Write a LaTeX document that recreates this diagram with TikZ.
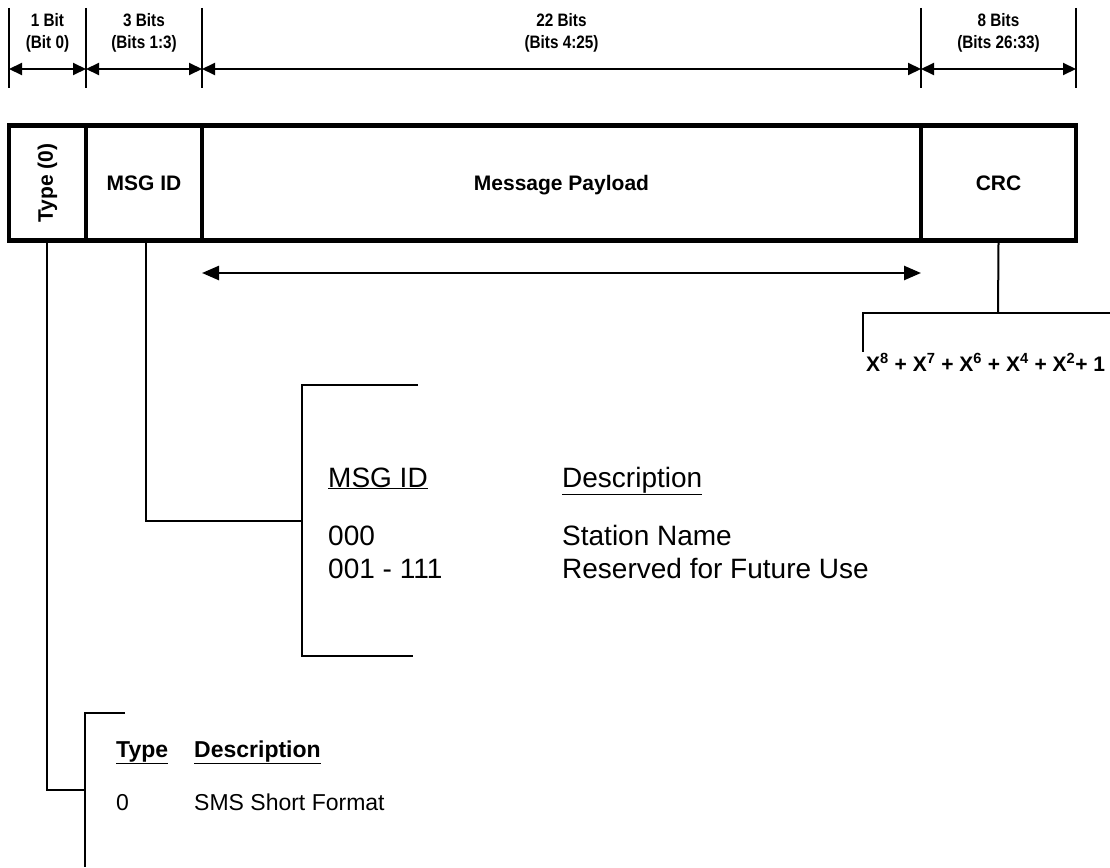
\documentclass[tikz,border=0pt]{standalone}
\usepackage{fontspec}
\setmainfont{Liberation Sans}
\usetikzlibrary{arrows.meta}
\tikzset{
  tick/.style={line width=2.5pt},
  dimarrow/.style={line width=2pt, {Triangle[length=13pt,width=12pt]}-{Triangle[length=13pt,width=12pt]}},
  payarrow/.style={line width=2.5pt, {Triangle[length=17pt,width=14pt]}-{Triangle[length=17pt,width=14pt]}},
  field/.style={draw, line width=4.5pt, minimum height=115pt, inner sep=0pt, font=\fontsize{21}{25}\selectfont\bfseries},
  toplabel/.style={align=center, inner sep=0pt, anchor=north, font=\fontsize{18}{21}\selectfont\bfseries},
  conn/.style={line width=2pt},
  tabtxt/.style={anchor=base west, inner sep=0pt, font=\fontsize{28}{33}\selectfont},
  typtxt/.style={anchor=base west, inner sep=0pt, font=\fontsize{23}{27}\selectfont},
  typhead/.style={typtxt, font=\fontsize{23}{27}\selectfont\bfseries},
}
\newcommand{\narrow}[1]{\scalebox{0.85}[1]{#1}}
\begin{document}
\begin{tikzpicture}[x=1pt,y=-1pt]
\useasboundingbox[fill=white] (0,0) rectangle (1110,867);

% dimension ticks
\foreach \n/\x in {0/9,1/86,2/202,3/921,4/1076}{
  \coordinate (tt\n) at (\x,8);
  \coordinate (tb\n) at (\x,88);
  \coordinate (ta\n) at (\x,69);
  \draw[tick] (tt\n) -- (tb\n);
}
\draw[dimarrow] (ta0) -- (ta1);
\draw[dimarrow] (ta1) -- (ta2);
\draw[dimarrow] (ta2) -- (ta3);
\draw[dimarrow] (ta3) -- (ta4);

\node[toplabel] (l0) at (47.5,13) {\narrow{1 Bit}\\[1pt]\narrow{(Bit 0)}};
\node[toplabel] (l1) at (144,13) {\narrow{3 Bits}\\[1pt]\narrow{(Bits 1:3)}};
\node[toplabel] (l2) at (561.5,13) {\narrow{22 Bits}\\[1pt]\narrow{(Bits 4:25)}};
\node[toplabel] (l3) at (998.5,13) {\narrow{8 Bits}\\[1pt]\narrow{(Bits 26:33)}};

% fields
\node[field, minimum width=77pt] (type) at (47.5,183) {\rotatebox{90}{Type (0)}};
\node[field, minimum width=116pt] (msg) at (144,183) {MSG ID};
\node[field, minimum width=719pt, text depth=0pt] (pay) at (561.5,183) {Message Payload};
\node[field, minimum width=155pt] (crc) at (998.5,183) {CRC};

% payload arrow
\coordinate (pa) at (202,273);
\coordinate (pb) at (921,273);
\draw[payarrow] (pa) -- (pb);

% CRC polynomial
\coordinate (crcj) at (998,313);
\coordinate (crcR) at (1110,313);
\coordinate (crcL) at (863,313);
\coordinate (crcE) at (863,352);
\draw[conn] (crc.south) -- (crcj);
\draw[conn] (crcR) -- (crcL) -- (crcE);
\node[anchor=base west, inner sep=0pt, font=\fontsize{21}{25}\selectfont\bfseries] (poly) at (866,371)
  {X\textsuperscript{8} + X\textsuperscript{7} + X\textsuperscript{6} + X\textsuperscript{4} + X\textsuperscript{2}+ 1};

% MSG ID table
\coordinate (mj) at (146,521);
\coordinate (mb) at (302,521);
\coordinate (mt1) at (418,385);
\coordinate (mt0) at (302,385);
\coordinate (mb0) at (302,656);
\coordinate (mb1) at (413,656);
\draw[conn] (msg.south -| mj) -- (mj) -- (mb);
\draw[conn] (mt1) -- (mt0) -- (mb0) -- (mb1);
\node[tabtxt] (mh1) at (328,487) {\underline{MSG ID}};
\node[tabtxt] (mh2) at (562,487) {\underline{Description}};
\node[tabtxt] (m1a) at (328,545) {000};
\node[tabtxt] (m1b) at (562,545) {Station Name};
\node[tabtxt] (m2a) at (328,578) {001 - 111};
\node[tabtxt] (m2b) at (562,578) {Reserved for Future Use};

% Type table
\coordinate (tj) at (47,790);
\coordinate (tbk) at (85,790);
\coordinate (tk1) at (125,713);
\coordinate (tk0) at (85,713);
\coordinate (tk2) at (85,867);
\draw[conn] (type.south -| tj) -- (tj) -- (tbk);
\draw[conn] (tk1) -- (tk0) -- (tk2);
\node[typhead] (th1) at (116,757) {\underline{Type}};
\node[typhead] (th2) at (194,757) {\underline{Description}};
\node[typtxt] (tr1) at (116,810) {0};
\node[typtxt] (tr2) at (194,810) {SMS Short Format};
\end{tikzpicture}
\end{document}
